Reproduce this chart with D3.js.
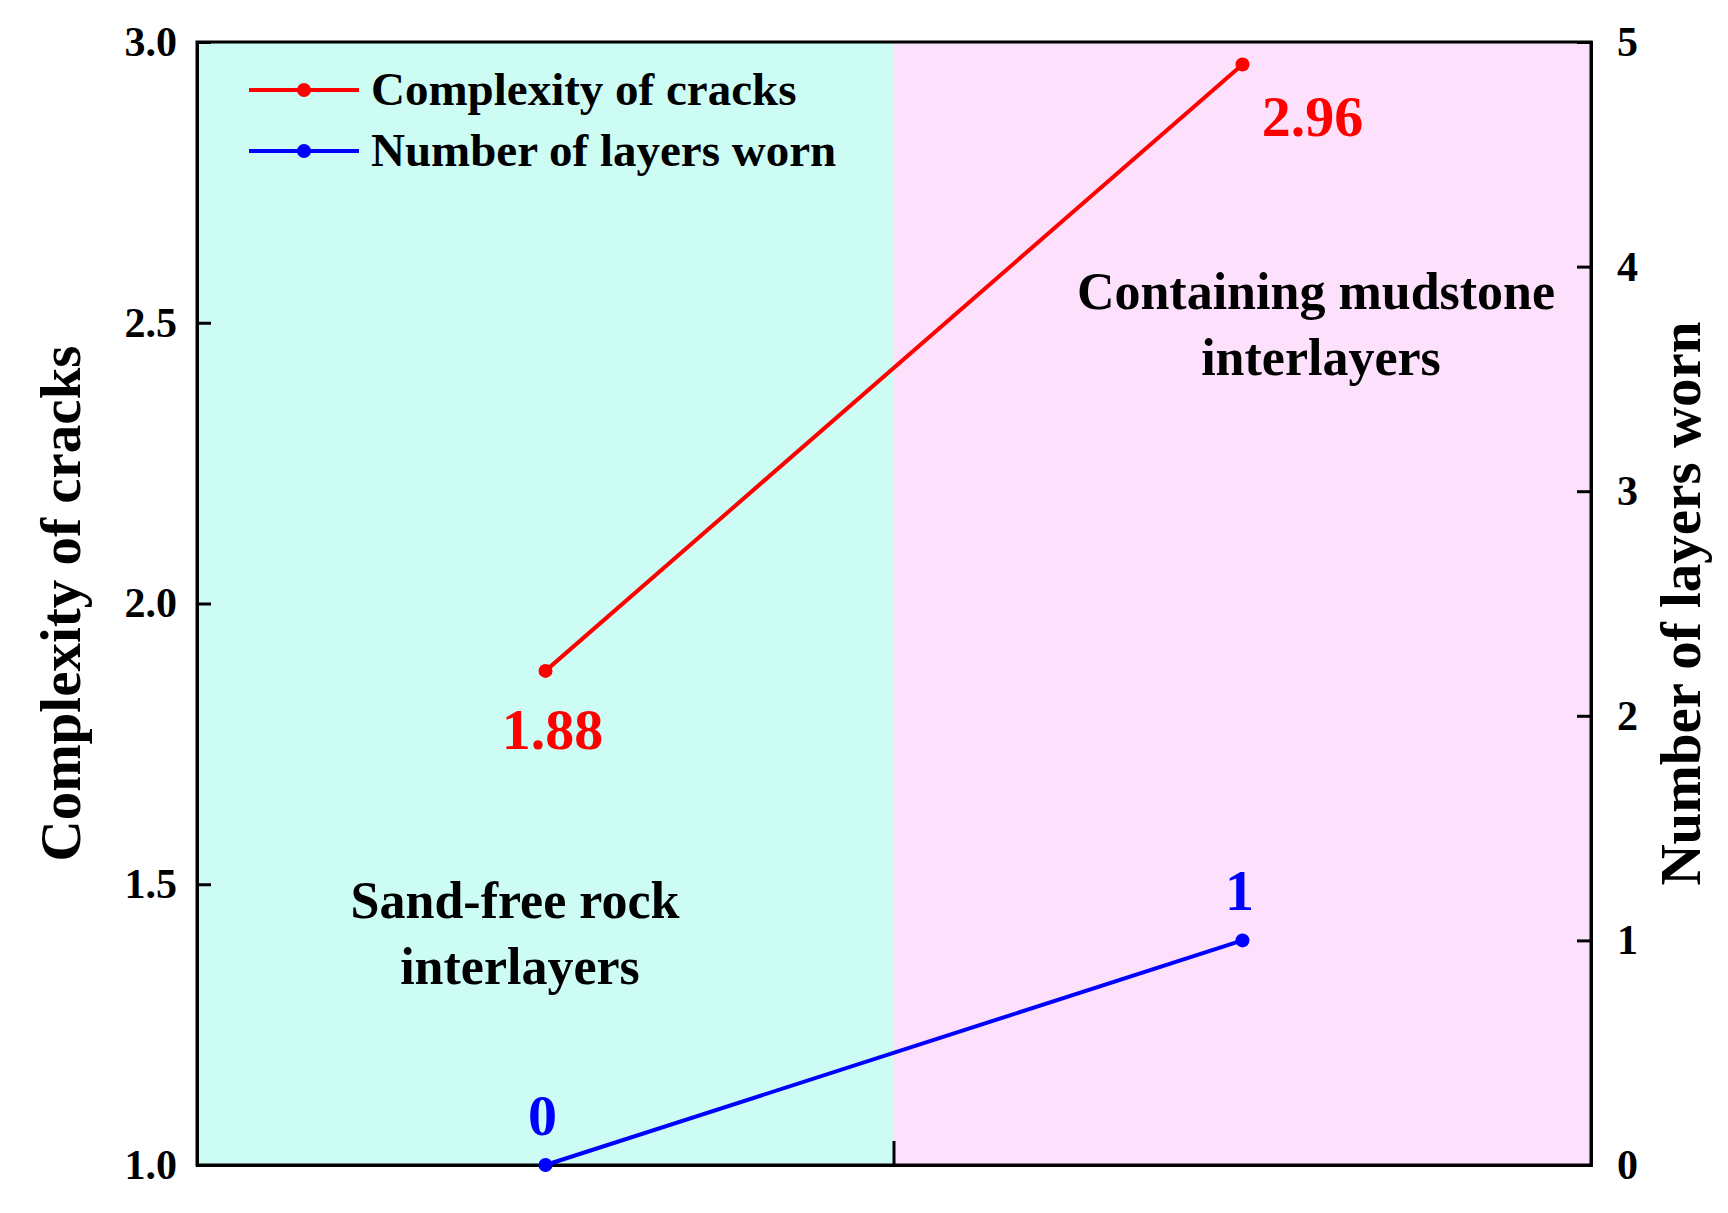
<!DOCTYPE html>
<html><head><meta charset="utf-8">
<script src="https://cdn.jsdelivr.net/npm/d3@7"></script>
<style>body{margin:0;background:#fff}text{font-family:"Liberation Serif","Times New Roman",serif;font-weight:bold}</style>
</head><body><svg id="chart" width="1728" height="1213"></svg>
<script>
const categories=["Sand-free rock interlayers","Containing mudstone interlayers"];
const complexity=[1.88,2.96];
const layersWorn=[0,1];
const leftTicks=[1.0,1.5,2.0,2.5,3.0];
const rightTicks=[0,1,2,3,4,5];

const svg=d3.select("#chart");
const m={top:42,right:137,bottom:48,left:197};
const W=1728-m.left-m.right,H=1213-m.top-m.bottom;
const g=svg.append("g").attr("transform",`translate(${m.left},${m.top})`);

const x=d3.scaleBand().domain(categories).range([0,W]);
const yL=d3.scaleLinear().domain([1,3]).range([H,0]);
const yR=d3.scaleLinear().domain([0,5]).range([H,0]);
const cx=d=>x(d)+x.bandwidth()/2;

g.append("rect").attr("x",x(categories[0])).attr("width",x.bandwidth()).attr("height",H).attr("fill","#ccfcf3");
g.append("rect").attr("x",x(categories[1])).attr("width",x.bandwidth()).attr("height",H).attr("fill","#fde0fb");

const ax=g.append("g").attr("transform",`translate(0,${H})`).call(d3.axisBottom(x).tickSize(-20).tickFormat(""));
ax.selectAll(".tick line").attr("y1",0).attr("y2",-24);
ax.selectAll(".tick").filter((d,i)=>i===0).attr("transform",`translate(${x(categories[1])},0)`);
ax.selectAll(".tick").filter((d,i)=>i===1).remove();
const aL=g.append("g").call(d3.axisLeft(yL).tickValues(leftTicks).tickFormat(d3.format(".1f")).tickSize(-14).tickPadding(20));
const aR=g.append("g").attr("transform",`translate(${W},0)`).call(d3.axisRight(yR).tickValues(rightTicks).tickFormat(d3.format("d")).tickSize(-14).tickPadding(26));
[ax,aL,aR].forEach(a=>{a.selectAll("path,line").attr("stroke","#000").attr("stroke-width",3);a.selectAll("text").attr("font-size",42).attr("fill","#000");});
g.append("rect").attr("width",W).attr("height",H).attr("fill","none").attr("stroke","#000").attr("stroke-width",3);

const line1=d3.line().x((d,i)=>cx(categories[i])).y(d=>yL(d));
const line2=d3.line().x((d,i)=>cx(categories[i])).y(d=>yR(d));
g.append("path").attr("d",line1(complexity)).attr("stroke","#f00").attr("stroke-width",4).attr("fill","none");
g.append("path").attr("d",line2(layersWorn)).attr("stroke","#00f").attr("stroke-width",4).attr("fill","none");
g.selectAll(".p1").data(complexity).join("circle").attr("cx",(d,i)=>cx(categories[i])).attr("cy",d=>yL(d)).attr("r",7).attr("fill","#f00");
g.selectAll(".p2").data(layersWorn).join("circle").attr("cx",(d,i)=>cx(categories[i])).attr("cy",d=>yR(d)).attr("r",7).attr("fill","#00f");

g.selectAll(".l1").data(complexity).join("text").attr("x",(d,i)=>cx(categories[i])+(i?70:7)).attr("y",(d,i)=>yL(d)+(i?72:78))
  .attr("text-anchor","middle").attr("font-size",58).attr("fill","#f00").text(d=>d.toFixed(2));
g.selectAll(".l2").data(layersWorn).join("text").attr("x",(d,i)=>cx(categories[i])-3).attr("y",d=>yR(d)-30)
  .attr("text-anchor","middle").attr("font-size",58).attr("fill","#00f").text(d=>d);

const reg=[{lines:["Sand-free rock","interlayers"],x:x(categories[0])+318,y:yL(1.44)},{lines:["Containing mudstone","interlayers"],x:x(categories[1])+422,y:yL(2.525)}];
reg.forEach(r=>{const t=g.append("text").attr("text-anchor","middle").attr("font-size",52).attr("fill","#000");
  r.lines.forEach((l,i)=>t.append("tspan").attr("x",r.x+(i?5:0)).attr("y",r.y+i*66).text(l));});

const leg=[{n:"Complexity of cracks",c:"#f00"},{n:"Number of layers worn",c:"#00f"}];
leg.forEach((d,i)=>{const y=48+i*61;
  g.append("line").attr("x1",52).attr("x2",162).attr("y1",y).attr("y2",y).attr("stroke",d.c).attr("stroke-width",4);
  g.append("circle").attr("cx",107).attr("cy",y).attr("r",7).attr("fill",d.c);
  g.append("text").attr("x",174).attr("y",y+15).attr("font-size",47).attr("fill","#000").text(d.n);});

svg.append("text").attr("transform",`translate(80,${m.top+H/2}) rotate(-90)`).attr("text-anchor","middle").attr("font-size",57).text("Complexity of cracks");
svg.append("text").attr("transform",`translate(1700,${m.top+H/2}) rotate(-90)`).attr("text-anchor","middle").attr("font-size",57).text("Number of layers worn");
</script></body></html>
